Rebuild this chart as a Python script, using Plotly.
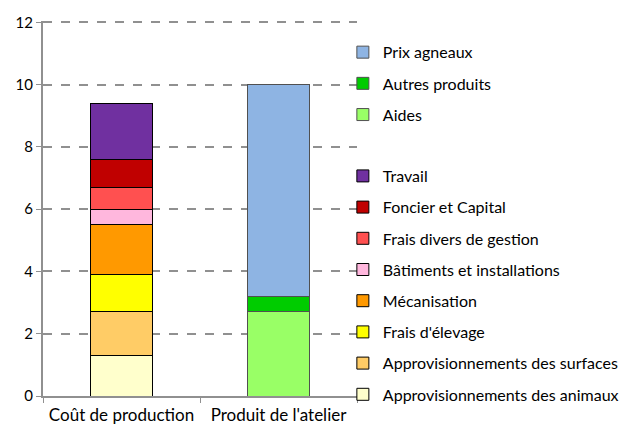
import plotly.graph_objects as go

categories = ["Coût de production", "Produit de l'atelier"]

cost_labels = ["Approvisionnements des animaux", "Approvisionnements des surfaces",
               "Frais d'élevage", "Mécanisation", "Bâtiments et installations",
               "Frais divers de gestion", "Foncier et Capital", "Travail"]
cost_values = [1.3, 1.4, 1.2, 1.6, 0.5, 0.7, 0.9, 1.8]

product_labels = ["Aides", "Autres produits", "Prix agneaux"]
product_values = [2.7, 0.5, 6.8]

cost_colors = ["#FFFFCC", "#FFCC66", "#FFFF00", "#FF9900",
               "#FFB7DD", "#FF5050", "#C00000", "#7030A0"]
product_colors = ["#99FF66", "#00CC00", "#8EB4E3"]

fig = go.Figure()

# stacked from bottom, legend listed top-down (reversed)
for i, (name, val, col) in enumerate(zip(cost_labels, cost_values, cost_colors)):
    fig.add_trace(go.Bar(x=[categories[0]], y=[val], name=name, legendgroup=name,
                         legendrank=100 - i,
                         marker=dict(color=col, line=dict(color="black", width=1)),
                         legend="legend2"))

for i, (name, val, col) in enumerate(zip(product_labels, product_values, product_colors)):
    fig.add_trace(go.Bar(x=[categories[1]], y=[val], name=name, legendgroup=name,
                         legendrank=100 - i,
                         marker=dict(color=col, line=dict(color="#505050", width=1)),
                         legend="legend"))

legend_style = dict(xanchor="left", yanchor="top", traceorder="grouped",
                    tracegroupgap=7.4, font=dict(size=16, color="black"),
                    bgcolor="rgba(0,0,0,0)", itemclick=False)

# page has 8px body margin, so figure is 630x418
fig.update_layout(
    width=630, height=418,
    margin=dict(l=35, r=281, t=13, b=30, autoexpand=False),
    barmode="stack", bargap=0.6,
    plot_bgcolor="white", paper_bgcolor="white",
    font=dict(family="Lato, sans-serif", size=15, color="black"),
    legend=dict(x=0.955, y=0.962, **legend_style),
    legend2=dict(x=0.955, y=0.632, **legend_style),
    xaxis=dict(showline=True, linecolor="#909090", linewidth=2,
               ticks="outside", tickson="boundaries", ticklen=5, tickcolor="#909090",
               tickfont=dict(size=17), ticklabelstandoff=3),
    yaxis=dict(range=[0, 12.04], tickvals=[0, 2, 4, 6, 8, 10, 12], showline=True,
               linecolor="#909090", linewidth=2,
               ticks="outside", ticklen=5, tickcolor="#909090",
               showgrid=True, gridcolor="#909090", griddash="dash", gridwidth=1.5,
               zeroline=False, tickfont=dict(size=15)),
)

fig.write_html("out.html")
